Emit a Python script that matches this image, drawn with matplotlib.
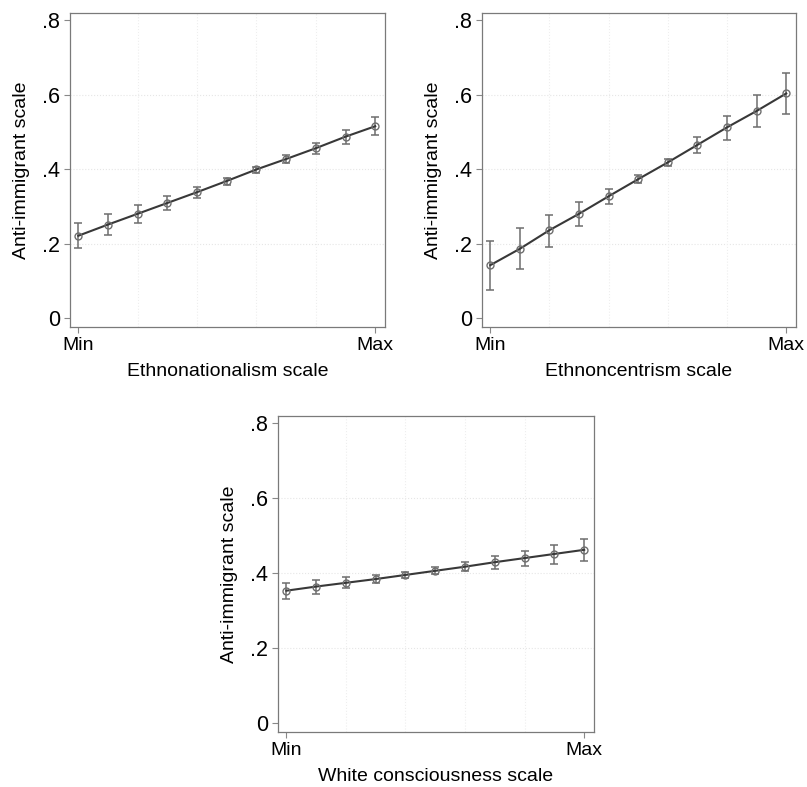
import numpy as np
import matplotlib
matplotlib.use("Agg")
import matplotlib.pyplot as plt

plt.rcParams['font.family'] = ['Liberation Sans', 'DejaVu Sans']

# Predicted anti-immigrant scale (margins) across 11 steps of each predictor
steps = np.arange(11)

ethnonat_mean = [0.221, 0.251, 0.280, 0.309, 0.338, 0.368, 0.399, 0.427, 0.456, 0.487, 0.515]
ethnonat_lo = [0.188, 0.222, 0.255, 0.289, 0.323, 0.358, 0.390, 0.417, 0.440, 0.467, 0.491]
ethnonat_hi = [0.255, 0.279, 0.303, 0.328, 0.352, 0.377, 0.406, 0.439, 0.470, 0.504, 0.539]

ethnocen_mean = [0.142, 0.186, 0.236, 0.280, 0.327, 0.373, 0.418, 0.465, 0.512, 0.556, 0.603]
ethnocen_lo = [0.076, 0.133, 0.191, 0.248, 0.306, 0.363, 0.408, 0.444, 0.479, 0.513, 0.549]
ethnocen_hi = [0.207, 0.241, 0.276, 0.311, 0.346, 0.383, 0.427, 0.486, 0.542, 0.599, 0.659]

whitecon_mean = [0.353, 0.364, 0.374, 0.384, 0.395, 0.406, 0.417, 0.429, 0.440, 0.451, 0.462]
whitecon_lo = [0.331, 0.344, 0.361, 0.374, 0.388, 0.397, 0.405, 0.411, 0.418, 0.424, 0.431]
whitecon_hi = [0.374, 0.382, 0.389, 0.395, 0.402, 0.416, 0.429, 0.446, 0.460, 0.476, 0.491]

x_labels = ["Min", "Max"]
y_ticks = [0, 0.2, 0.4, 0.6, 0.8]
y_ticklabels = ["0", ".2", ".4", ".6", ".8"]
y_title = "Anti-immigrant scale"

W, H = 807, 787
fig = plt.figure(figsize=(W / 100, H / 100), dpi=100)


def panel(rect, mean, lo, hi, xlabel):
    # rect in pixels: left, top, right, bottom
    l, t, r, b = rect
    ax = fig.add_axes([l / W, (H - b) / H, (r - l) / W, (b - t) / H])
    mean = np.array(mean)
    yerr = [mean - np.array(lo), np.array(hi) - mean]
    # faint Stata-like grid
    for gy in [0.2, 0.4, 0.6]:
        ax.axhline(gy, color='#e6e6e6', lw=0.8, ls=':', zorder=0)
    for gx in [2, 4, 6, 8]:
        ax.axvline(gx, color='#eeeeee', lw=0.8, ls=':', zorder=0)
    ax.errorbar(steps, mean, yerr=yerr, fmt='none', ecolor='#6e6e6e',
                elinewidth=1.1, capsize=3.2, capthick=1.1, zorder=2)
    ax.plot(steps, mean, color='#383838', lw=1.5, zorder=3)
    ax.plot(steps, mean, 'o', ms=5, mfc='none', mec='#6e6e6e', mew=1.0, zorder=4)
    ax.set_xlim(-0.28, 10.33)
    ax.set_ylim(-0.024, 0.819)
    ax.set_xticks([0, 10])
    ax.set_xticklabels(x_labels, fontsize=14)
    ax.set_yticks(y_ticks)
    ax.set_yticklabels(y_ticklabels, fontsize=15.5)
    ax.tick_params(direction='out', length=4, width=0.8, color='#888888', pad=3)
    ax.tick_params(axis='x', pad=3)
    for s in ax.spines.values():
        s.set_color('#7a7a7a')
        s.set_linewidth(0.9)
    ax.set_xlabel(xlabel, fontsize=14, labelpad=7)
    ax.set_ylabel(y_title, fontsize=14, labelpad=9)
    return ax


panel((70, 13, 385, 327), ethnonat_mean, ethnonat_lo, ethnonat_hi, "Ethnonationalism scale")
panel((482, 13, 796, 327), ethnocen_mean, ethnocen_lo, ethnocen_hi, "Ethnoncentrism scale")
panel((278, 416, 594, 732), whitecon_mean, whitecon_lo, whitecon_hi, "White consciousness scale")

fig.savefig("out.png", dpi=100, facecolor='white')
